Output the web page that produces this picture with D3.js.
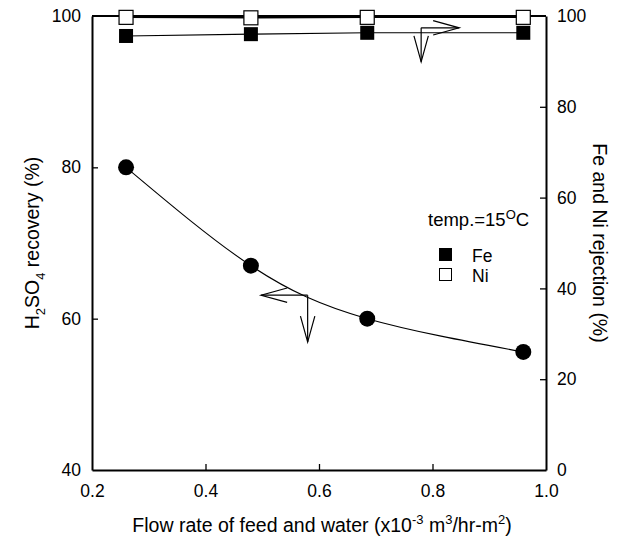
<!DOCTYPE html>
<html lang="en">
  <head>
    <meta charset="utf-8"/>
    <title>H2SO4 recovery and Fe/Ni rejection</title>
    <script src="https://cdn.jsdelivr.net/npm/d3@7"></script>
    <style>
      body { margin: 0; background: #fff; }
      text { font-family: "Liberation Sans", Arial, sans-serif; fill: #000; }
    </style>
  </head>
  <body>
    <div id="chart"></div>
    <script>

      // flow rate (x10^-3 m3/hr-m2)
      var flowRate = [0.26, 0.48, 0.685, 0.96];
      // left axis: H2SO4 recovery (%)
      var recovery = [80, 67, 60, 55.6];
      // right axis: rejection (%)
      var feRejection = [95.6, 96.0, 96.3, 96.3];
      var niRejection = [99.7, 99.6, 99.7, 99.7];

      var xTicks = [0.2, 0.4, 0.6, 0.8, 1.0];
      var leftTicks = [40, 60, 80, 100];
      var rightTicks = [0, 20, 40, 60, 80, 100];

      // arrow annotations: corner, horizontal tip x, vertical tip y
      var leftArrow = { x: 0.58, y: 63.1, tipX: 0.498, tipY: 56.9 };
      var rightArrow = { x: 0.78, y: 97.4, tipX: 0.847, tipY: 89.9 };

      var W = 619, H = 543;
      var margin = { top: 16, right: 73, bottom: 73, left: 92 };
      var w = W - margin.left - margin.right;
      var h = H - margin.top - margin.bottom;

      var svg = d3.select("#chart").append("svg")
        .attr("width", W)
        .attr("height", H);

      var g = svg.append("g")
        .attr("transform", "translate(" + margin.left + "," + margin.top + ")");

      var x = d3.scaleLinear().domain([0.2, 1.0]).range([0, w]);
      var yL = d3.scaleLinear().domain([40, 100]).range([h, 0]);
      var yR = d3.scaleLinear().domain([0, 100]).range([h, 0]);

      // axes, ticks inward
      var xAxis = g.append("g")
        .attr("transform", "translate(0," + h + ")")
        .call(d3.axisBottom(x).tickValues(xTicks).tickSizeInner(-6).tickSizeOuter(0).tickPadding(12)
          .tickFormat(d3.format(".1f")));
      var lAxis = g.append("g")
        .call(d3.axisLeft(yL).tickValues(leftTicks).tickSizeInner(-6).tickSizeOuter(0).tickPadding(11));
      var rAxis = g.append("g")
        .attr("transform", "translate(" + w + ",0)")
        .call(d3.axisRight(yR).tickValues(rightTicks).tickSizeInner(-6).tickSizeOuter(0).tickPadding(11));

      [xAxis, lAxis, rAxis].forEach(function(a) {
        a.selectAll("path").attr("stroke", "#000").attr("stroke-width", 2);
        a.selectAll("line").attr("stroke", "#000").attr("stroke-width", 1.3);
        a.selectAll("text").style("font-size", "17.5px").attr("fill", "#000")
          .style("font-family", "Liberation Sans, Arial, sans-serif");
      });
      // hide end ticks that sit on the frame
      xAxis.selectAll(".tick").filter(function(d) { return d === 0.2 || d === 1.0; }).select("line").remove();
      lAxis.selectAll(".tick").filter(function(d) { return d === 40 || d === 100; }).select("line").remove();
      rAxis.selectAll(".tick").filter(function(d) { return d === 0 || d === 100; }).select("line").remove();
      xAxis.selectAll(".tick text").attr("dy", "0.85em");

      // top frame
      g.append("line")
        .attr("x1", 0).attr("x2", w).attr("y1", 0).attr("y2", 0)
        .attr("stroke", "#000").attr("stroke-width", 2);

      // recovery curve through points
      var curve = d3.line()
        .x(function(d, i) { return x(flowRate[i]); })
        .y(function(d) { return yL(d); })
        .curve(d3.curveNatural);
      g.append("path")
        .datum(recovery)
        .attr("d", curve)
        .attr("fill", "none")
        .attr("stroke", "#000")
        .attr("stroke-width", 1.1);

      var straight = function(scaleY) {
        return d3.line()
          .x(function(d, i) { return x(flowRate[i]); })
          .y(function(d) { return scaleY(d); });
      };
      g.append("path").datum(feRejection).attr("d", straight(yR))
        .attr("fill", "none").attr("stroke", "#000").attr("stroke-width", 1.1);
      g.append("path").datum(niRejection).attr("d", straight(yR))
        .attr("fill", "none").attr("stroke", "#000").attr("stroke-width", 1.5);

      g.selectAll(".dot").data(recovery).enter().append("circle")
        .attr("cx", function(d, i) { return x(flowRate[i]); })
        .attr("cy", function(d) { return yL(d); })
        .attr("r", 8)
        .attr("fill", "#000");

      var sq = 14;
      g.selectAll(".fe").data(feRejection).enter().append("rect")
        .attr("x", function(d, i) { return x(flowRate[i]) - sq / 2; })
        .attr("y", function(d) { return yR(d) - sq / 2; })
        .attr("width", sq).attr("height", sq)
        .attr("fill", "#000");
      g.selectAll(".ni").data(niRejection).enter().append("rect")
        .attr("x", function(d, i) { return x(flowRate[i]) - sq / 2; })
        .attr("y", function(d) { return yR(d) - sq / 2; })
        .attr("width", sq).attr("height", sq)
        .attr("fill", "#fff").attr("stroke", "#000").attr("stroke-width", 1.2);

      // arrows with open V heads
      function arrow(x1, y1, x2, y2) {
        var ang = Math.atan2(y2 - y1, x2 - x1), len = 27, spread = 0.27;
        g.append("line").attr("x1", x1).attr("y1", y1).attr("x2", x2).attr("y2", y2)
          .attr("stroke", "#000").attr("stroke-width", 1.2);
        var p1 = [x2 - len * Math.cos(ang - spread), y2 - len * Math.sin(ang - spread)];
        var p2 = [x2 - len * Math.cos(ang + spread), y2 - len * Math.sin(ang + spread)];
        g.append("path")
          .attr("d", "M" + p1 + "L" + [x2, y2] + "L" + p2)
          .attr("fill", "none").attr("stroke", "#000").attr("stroke-width", 1.2);
      }
      arrow(x(leftArrow.x), yL(leftArrow.y), x(leftArrow.tipX), yL(leftArrow.y));
      arrow(x(leftArrow.x), yL(leftArrow.y), x(leftArrow.x), yL(leftArrow.tipY));
      arrow(x(rightArrow.x), yR(rightArrow.y), x(rightArrow.tipX), yR(rightArrow.y));
      arrow(x(rightArrow.x), yR(rightArrow.y), x(rightArrow.x), yR(rightArrow.tipY));

      // legend
      var lg = svg.append("g").attr("transform", "translate(428,226)");
      var t = lg.append("text").style("font-size", "18.5px");
      t.append("tspan").text("temp.=15");
      t.append("tspan").attr("dy", -7).style("font-size", "13px").text("O");
      t.append("tspan").attr("dy", 7).text("C");
      lg.append("rect").attr("x", 11).attr("y", 22).attr("width", 13).attr("height", 13).attr("fill", "#000");
      lg.append("text").attr("x", 44).attr("y", 36).style("font-size", "17.5px").text("Fe");
      lg.append("rect").attr("x", 11.5).attr("y", 42.5).attr("width", 12).attr("height", 12)
        .attr("fill", "#fff").attr("stroke", "#000").attr("stroke-width", 1);
      lg.append("text").attr("x", 44).attr("y", 56).style("font-size", "17.5px").text("Ni");

      // axis titles
      var xt = svg.append("text")
        .attr("x", margin.left + w / 2 + 3).attr("y", 532)
        .attr("text-anchor", "middle").style("font-size", "19.5px");
      xt.append("tspan").text("Flow rate of feed and water (x10");
      xt.append("tspan").attr("dy", -8).style("font-size", "13px").text("-3");
      xt.append("tspan").attr("dy", 8).text(" m");
      xt.append("tspan").attr("dy", -8).style("font-size", "13px").text("3");
      xt.append("tspan").attr("dy", 8).text("/hr-m");
      xt.append("tspan").attr("dy", -8).style("font-size", "13px").text("2");
      xt.append("tspan").attr("dy", 8).text(")");

      var lt = svg.append("text")
        .attr("transform", "translate(39," + (margin.top + h / 2) + ") rotate(-90)")
        .attr("text-anchor", "middle").style("font-size", "19.5px");
      lt.append("tspan").text("H");
      lt.append("tspan").attr("dy", 6).style("font-size", "13px").text("2");
      lt.append("tspan").attr("dy", -6).text("SO");
      lt.append("tspan").attr("dy", 6).style("font-size", "13px").text("4");
      lt.append("tspan").attr("dy", -6).text(" recovery (%)");

      svg.append("text")
        .attr("transform", "translate(593," + (margin.top + h / 2) + ") rotate(90)")
        .attr("text-anchor", "middle").style("font-size", "19.5px")
        .text("Fe and Ni rejection (%)");
    </script>
  </body>
</html>
